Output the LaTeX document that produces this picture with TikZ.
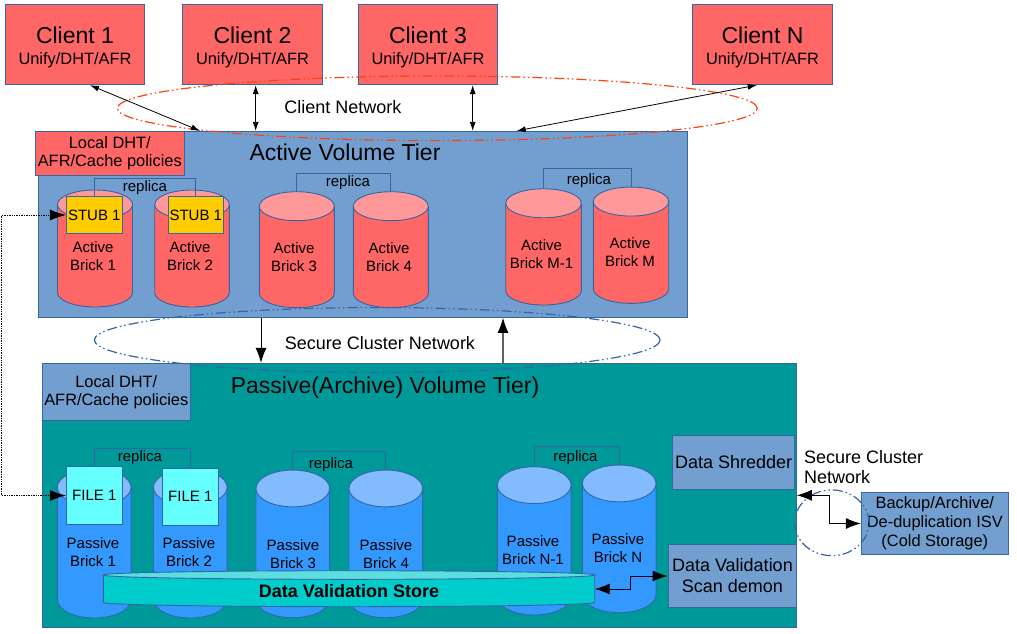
\documentclass[tikz,border=0pt]{standalone}
\usepackage{fontspec}
\setmainfont{Liberation Sans}
\usetikzlibrary{arrows.meta,shapes.geometric}

\tikzset{
    tierBox/.style={draw=borderColour, line width=0.9pt, inner sep=0pt},
    textBox/.style={tierBox, align=center},
    brickFrame/.style={inner sep=0pt, outer sep=0pt},
    brickLine/.style={draw=borderColour, line width=0.9pt},
    netRing/.style={shape=ellipse, line width=1.2pt, inner sep=0pt,
        dash pattern=on 10pt off 3pt on 1.5pt off 3pt on 1.5pt off 3pt},
    thinLink/.style={{Latex[length=9pt,width=6pt]}-{Latex[length=9pt,width=6pt]}, line width=0.8pt},
    heavyLink/.style={line width=1pt, {Latex[length=15pt,width=11pt]}-{Latex[length=15pt,width=11pt]}},
    plainText/.style={inner sep=0pt, align=center}
}

\begin{document}
\begin{tikzpicture}[x=1pt, y=-1pt]
    \definecolor{borderColour}{HTML}{3465A4}
    \definecolor{fillRed}{HTML}{FF6666}
    \definecolor{fillRedTop}{HTML}{FF9999}
    \definecolor{fillBlue}{HTML}{3399FF}
    \definecolor{fillBlueTop}{HTML}{83BBFF}
    \definecolor{fillTier}{HTML}{729FCF}
    \definecolor{fillTeal}{HTML}{009999}
    \definecolor{fillStore}{HTML}{00CCCC}
    \definecolor{fillStoreTop}{HTML}{5CDEDE}
    \definecolor{fillStub}{HTML}{FFCC00}
    \definecolor{fillFile}{HTML}{66FFFF}
    \definecolor{ringRed}{HTML}{FF420E}

    \def\bigSize{\fontsize{23}{26}\selectfont}
    \def\midSize{\fontsize{18}{21}\selectfont}
    \def\textSize{\fontsize{16.4}{18}\selectfont}
    \def\smallSize{\fontsize{15}{18}\selectfont}
    \def\brickSize{\fontsize{15}{17.5}\selectfont}

    % #1 frame node, #2 half width, #3 end radius, #4 body colour, #5 top colour
    \def\drawCylinder#1#2#3#4#5{
        \filldraw[brickLine, fill=#4] ([yshift=-#3pt]#1.north west) -- ([yshift=#3pt]#1.south west)
            arc[x radius=#2pt, y radius=#3pt, start angle=180, end angle=360]
            -- ([yshift=-#3pt]#1.north east) -- cycle;
        \filldraw[brickLine, fill=#5] ([yshift=-#3pt]#1.north) ellipse[x radius=#2pt, y radius=#3pt];
    }

    \useasboundingbox (0,0) rectangle (1017,633);

    % Draw clients
    \foreach \name/\cx/\num in {clientOne/75/1, clientTwo/252.5/2, clientThree/428/3, clientLast/762.5/N}
        \node[textBox, fill=fillRed, font=\textSize, minimum width=139.4, minimum height=80.4] (\name) at (\cx,44.5)
            {\rule{0pt}{22.7pt}{\bigSize Client \num}\\[3pt]Unify/DHT/AFR};

    % Draw tiers
    \node[tierBox, fill=fillTier, minimum width=649.4, minimum height=186] (activeTier) at (363,224.3) {};
    \node[tierBox, fill=fillTeal, minimum width=754, minimum height=264] (passiveTier) at (419.3,495.3) {};
    \node[plainText, font=\bigSize] (activeTitle) at (345,152) {Active Volume Tier};
    \node[plainText, font=\bigSize] (passiveTitle) at (385,387.5) {Passive(Archive) Volume Tier)};

    % Local policy boxes
    \node[textBox, fill=fillRed, font=\textSize, minimum width=149, minimum height=44] (activeLocal) at (109.8,153.3)
        {Local DHT/\\AFR/Cache policies};
    \node[textBox, fill=fillTier, font=\textSize, minimum width=148, minimum height=57] (passiveLocal) at (116.3,391.8)
        {Local DHT/\\AFR/Cache policies};

    % Active bricks
    \foreach \name/\cx/\cy/\bw/\bh in {activeA/95/248.5/75/117, activeB/192/248.5/74.6/117,
            activeC/296.8/249.7/75/116, activeD/390.8/249.7/75/116,
            activeE/543.5/246.9/75.6/116.3, activeF/631/245.2/75.4/116.3}
    {
        \node[brickFrame, minimum width=\bw, minimum height=\bh] (\name) at (\cx,\cy) {};
        \pgfmathsetmacro\halfW{\bw/2}
        \drawCylinder{\name}{\halfW}{14.5}{fillRed}{fillRedTop}
    }

    % Passive bricks
    \foreach \name/\cx/\cy/\bh in {passiveA/94.2/543.5/149, passiveB/190.3/543.5/149,
            passiveC/292.8/543.9/147.7, passiveD/385.8/543.9/147.7,
            passiveE/534.2/540.9/148.3, passiveF/619.2/538.9/147.7}
    {
        \node[brickFrame, minimum width=73.7, minimum height=\bh] (\name) at (\cx,\cy) {};
        \drawCylinder{\name}{36.85}{18.4}{fillBlue}{fillBlueTop}
    }

    % Brick labels
    \foreach \lx/\ly/\first/\second in {93/256/Active/Brick 1, 190/256/Active/Brick 2,
            294/257/Active/Brick 3, 389/257/Active/Brick 4,
            541.5/254/Active/Brick M-1, 630/252/Active/Brick M,
            93/552/Passive/Brick 1, 189/552/Passive/Brick 2,
            293/554/Passive/Brick 3, 386/554/Passive/Brick 4,
            533/550/Passive/Brick N-1, 618/548/Passive/Brick N}
        \node[plainText, font=\brickSize] at (\lx,\ly) {\first\\\second};

    % Stubs and files
    \node[textBox, fill=fillStub, font=\smallSize, minimum width=56, minimum height=36.6] (stubA) at (94.3,215) {STUB 1};
    \node[textBox, fill=fillStub, font=\smallSize, minimum width=55, minimum height=36.6] (stubB) at (195.8,215) {STUB 1};
    \node[textBox, fill=fillFile, font=\smallSize, minimum width=56, minimum height=57.6] (fileA) at (94.3,495.5) {FILE 1};
    \node[textBox, fill=fillFile, font=\smallSize, minimum width=56, minimum height=57] (fileB) at (190.3,496.8) {FILE 1};

    % Replica brackets
    \foreach \from/\to/\topY/\lx/\ly in {stubA/stubB/178.7/145/188,
            activeC/activeD/173.7/348/183, activeE/activeF/168.3/589/181,
            fileA/fileB/448.3/140/457.5, passiveC/passiveD/451.7/331/465,
            passiveE/passiveF/446/575.5/457.5}
    {
        \draw[borderColour, line width=0.9pt] (\from.north) -- (\from.north |- 0,\topY) -- (\to.north |- 0,\topY) -- (\to.north);
        \node[plainText, font=\brickSize] at (\lx,\ly) {replica};
    }

    % Validation store
    \node[brickFrame, minimum width=491.4, minimum height=36] (store) at (349,588.7) {};
    \drawCylinder{store}{245.7}{4.3}{fillStore}{fillStoreTop}
    \node[plainText, font=\bfseries\fontsize{18}{21}\selectfont] (storeText) at (349,591) {Data Validation Store};

    % Service boxes
    \node[textBox, fill=fillTier, font=\midSize, minimum width=122, minimum height=53.6] (shredder) at (733.7,462.5) {Data Shredder};
    \node[textBox, fill=fillTier, font=\midSize, minimum width=128.7, minimum height=62.6] (scanDemon) at (732.4,576) {Data Validation\\Scan demon};
    \node[textBox, fill=fillTier, font=\fontsize{16.4}{19}\selectfont, minimum width=147, minimum height=62.4] (backup) at (934.8,523.5) {Backup/Archive/\\De-duplication ISV\\(Cold Storage)};

    % Network rings
    \node[netRing, draw=ringRed, minimum width=640, minimum height=64.6] (clientNet) at (437.3,108.3) {};
    \node[netRing, draw=borderColour, minimum width=565.7, minimum height=65] (secureNet) at (377.2,340) {};
    \node[netRing, draw=borderColour, minimum width=74.3, minimum height=65.7] (backupNet) at (831.8,522.8) {};
    \node[plainText, font=\midSize] (clientNetText) at (343,107) {Client Network};
    \node[plainText, font=\midSize] (secureNetText) at (380,343) {Secure Cluster Network};
    \node[plainText, font=\fontsize{18}{20}\selectfont, align=left, anchor=west] (backupNetText) at (804,467.3) {Secure Cluster\\Network};

    % Client links
    \draw[thinLink] ([xshift=15pt]clientOne.south) -- ([xshift=-163pt]activeTier.north);
    \draw[thinLink] ([xshift=3.2pt]clientTwo.south) -- ([xshift=-107.3pt]activeTier.north);
    \draw[thinLink] ([xshift=44.7pt]clientThree.south) -- ([xshift=109.7pt]activeTier.north);
    \draw[thinLink] ([xshift=-5.8pt]clientLast.south) -- ([xshift=153.7pt]activeTier.north);

    % Tier links
    \draw[line width=1pt, -{Latex[length=15pt,width=11pt]}] ([xshift=-102pt]activeTier.south) -- ([xshift=-158.3pt]passiveTier.north);
    \draw[line width=1.2pt, gray!75!black, -{Latex[length=15pt,width=11pt,black]}] ([xshift=83.7pt]passiveTier.north) -- ([xshift=140pt]activeTier.south);

    % Stub to file link
    \coordinate (dotRail) at (1.5,0);
    \draw[densely dotted, line width=0.7pt, {Latex[length=16pt,width=11pt]}-{Latex[length=16pt,width=11pt]}]
        (stubA.west) -- (stubA.west -| dotRail) -- (fileA.west -| dotRail) -- (fileA.west);

    % Store and backup links
    \coordinate (storeMid) at (630.7,0);
    \coordinate (storeEnd) at (594.7,589);
    \draw[heavyLink] (storeEnd) -- (storeMid |- storeEnd) -- (storeMid |- scanDemon.west) -- (scanDemon.west);
    \coordinate (backupMid) at (829,0);
    \draw[heavyLink] (passiveTier.east) -- (backupMid |- passiveTier.east) -- (backupMid |- backup.west) -- (backup.west);

\end{tikzpicture}
\end{document}
